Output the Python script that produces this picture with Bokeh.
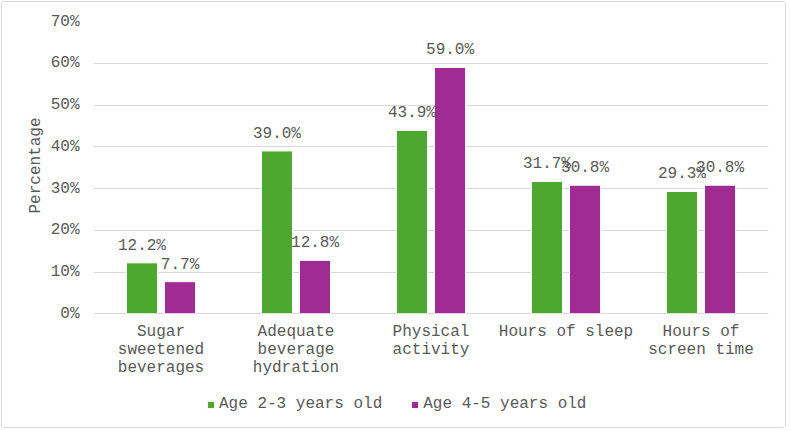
from bokeh.plotting import figure
from bokeh.models import (ColumnDataSource, FactorRange, FixedTicker, PrintfTickFormatter,
                          Legend, LegendItem, Range1d, Title)
from bokeh.transform import dodge
from bokeh.core.properties import value
from bokeh.embed import file_html
from bokeh.resources import INLINE

categories = ["Sugar sweetened beverages", "Adequate beverage hydration",
              "Physical activity", "Hours of sleep", "Hours of screen time"]
category_labels = ["Sugar\nsweetened\nbeverages", "Adequate\nbeverage\nhydration",
                   "Physical\nactivity", "Hours of sleep", "Hours of\nscreen time"]
age_2_3 = [12.2, 39.0, 43.9, 31.7, 29.3]
age_4_5 = [7.7, 12.8, 59.0, 30.8, 30.8]
series_names = ["Age 2-3 years old", "Age 4-5 years old"]
y_ticks = [0, 10, 20, 30, 40, 50, 60, 70]
y_title = "Percentage"

FONT = "Liberation Mono"
TEXT = "#595959"
GREEN = "#4EA72E"
PURPLE = "#A02B93"

src = ColumnDataSource(dict(
    cat=categories,
    catlab=category_labels,
    zero=[0] * len(categories),
    a=age_2_3,
    b=age_4_5,
    la=[f"{v:.1f}%" for v in age_2_3],
    lb=[f"{v:.1f}%" for v in age_4_5],
))

p = figure(width=785, height=427, output_backend="svg", toolbar_location=None,
           x_range=FactorRange(*categories, range_padding=0),
           y_range=Range1d(-26.75, 70),
           min_border_left=91, min_border_right=19, min_border_top=19, min_border_bottom=4)
p.styles = {"border": "1px solid #d9d9d9", "border-radius": "3px", "margin": "1px 0 0 1px"}

off = 0.141
w = 0.23
ra = p.vbar(x=dodge("cat", -off, range=p.x_range), top="a", width=w, source=src,
            fill_color=GREEN, line_color="white", line_width=1)
rb = p.vbar(x=dodge("cat", off, range=p.x_range), top="b", width=w, source=src,
            fill_color=PURPLE, line_color="white", line_width=1)

for col, lab, o in (("a", "la", -off), ("b", "lb", off)):
    p.text(x=dodge("cat", o, range=p.x_range), y=col, text=lab,
           source=src, text_font=value(FONT), text_font_size="16px", text_color=TEXT,
           text_align="center", text_baseline="bottom", y_offset=-8)

# category labels below the zero line
p.text(x="cat", y="zero", text="catlab", source=src, text_font=value(FONT),
       text_font_size="16px", text_color=TEXT, text_align="center",
       text_baseline="top", y_offset=9, text_line_height=1.0)

p.outline_line_color = None
p.background_fill_color = "white"
p.border_fill_color = "white"

p.xgrid.grid_line_color = None
p.ygrid.grid_line_color = "#d9d9d9"
p.ygrid.grid_line_width = 1
p.ygrid.ticker = FixedTicker(ticks=y_ticks)

p.xaxis.visible = False

p.yaxis.ticker = FixedTicker(ticks=y_ticks)
p.yaxis.formatter = PrintfTickFormatter(format="%d%%")
p.yaxis.axis_line_color = None
p.yaxis.major_tick_line_color = None
p.yaxis.minor_tick_line_color = None
p.yaxis.major_tick_out = 0
p.yaxis.major_tick_in = 0
p.yaxis.minor_tick_out = 0
p.yaxis.major_label_standoff = 14
p.yaxis.major_label_text_font = FONT
p.yaxis.major_label_text_font_size = "16px"
p.yaxis.major_label_text_color = TEXT

ytitle = Title(text=y_title, align="right", offset=96, standoff=6,
               text_font=FONT, text_font_size="16px", text_color=TEXT,
               text_font_style="normal")
p.add_layout(ytitle, "left")

legend = Legend(items=[LegendItem(label=series_names[0], renderers=[ra]),
                       LegendItem(label=series_names[1], renderers=[rb])],
                orientation="horizontal", location=(113, 12),
                label_text_font=FONT, label_text_font_size="16px", label_text_color=TEXT,
                glyph_width=9, glyph_height=9, label_standoff=4, spacing=28,
                border_line_color=None, background_fill_alpha=0,
                padding=0, margin=0)
p.add_layout(legend, "center")

open("out.html", "w").write(file_html(p, INLINE))
